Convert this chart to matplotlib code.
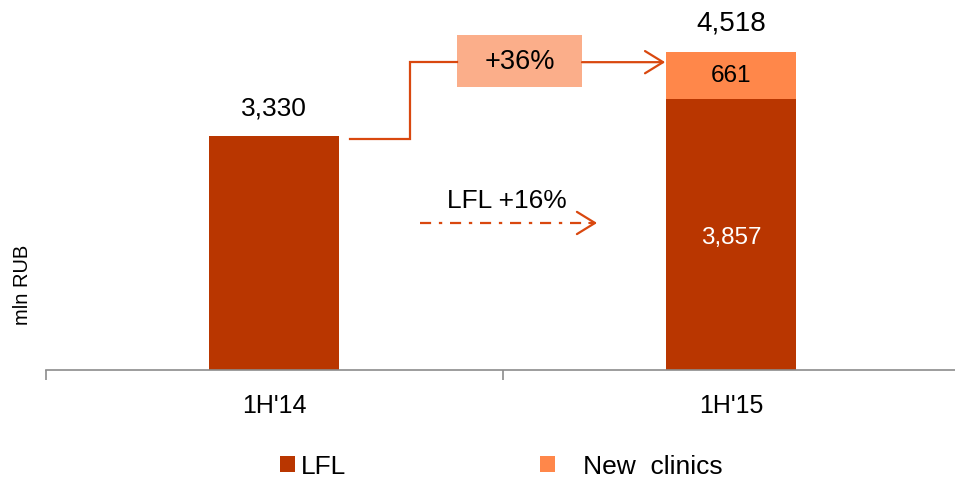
import matplotlib.pyplot as plt
from matplotlib.patches import Rectangle

plt.rcParams['font.family'] = ['Liberation Sans', 'DejaVu Sans']

periods = ["1H'14", "1H'15"]
lfl = [3330, 3857]
new_clinics = [0, 661]
totals = [3330, 4518]
growth_total = '+36%'
growth_lfl = 'LFL +16%'

c_lfl = '#B93600'
c_new = '#FF874A'
c_box = '#FBAE8A'
c_arrow = '#D9480F'

fig = plt.figure(figsize=(9.55, 4.79), dpi=100)
ax = fig.add_axes([45.5 / 955, 109 / 479, 914 / 955, 360 / 479])

x = range(len(periods))
w = 0.284
ax.bar(x, lfl, width=w, color=c_lfl, label='LFL')
ax.bar(x, new_clinics, width=w, bottom=lfl, color=c_new, label='   New  clinics')

ax.set_xlim(-0.5, 1.5)
ax.set_ylim(0, 5120)

# value labels
ax.text(0, 3720, '3,330', ha='center', va='center', fontsize=19)
ax.text(1, 4925, '4,518', ha='center', va='center', fontsize=20)
ax.text(1, lfl[1] + new_clinics[1] / 2, '661', ha='center', va='center', fontsize=17.5)
ax.text(1, lfl[1] * 0.487, '3,857', ha='center', va='center', fontsize=17.5,
        color='white')

# step connector with the +36% box
ax.plot([0.166, 0.298, 0.298, 0.400], [3285, 3285, 4378, 4378],
        color=c_arrow, lw=1.6, solid_joinstyle='miter')
ax.annotate('', xy=(0.856, 4378), xytext=(0.674, 4378),
            arrowprops=dict(arrowstyle='->,head_length=1.3,head_width=0.8',
                            color=c_arrow, lw=1.6, shrinkA=0, shrinkB=0))
ax.add_patch(Rectangle((0.400, 4029), 0.274, 736, color=c_box, lw=0))
ax.text(0.537, 4385, growth_total, ha='center', va='center', fontsize=19.5)

# like-for-like growth arrow: dash-dot shaft, solid head
ax.text(0.510, 2400, growth_lfl, ha='center', va='center', fontsize=19)
ax.plot([0.319, 0.690], [2091, 2091], color=c_arrow, lw=1.6,
        linestyle=(0, (5, 3.5, 1.5, 3.5)))
ax.annotate('', xy=(0.707, 2091), xytext=(0.690, 2091),
            arrowprops=dict(arrowstyle='->,head_length=1.3,head_width=0.8',
                            color=c_arrow, lw=1.6, shrinkA=0, shrinkB=0))

# axes styling
for s in ['top', 'right', 'left']:
    ax.spines[s].set_visible(False)
ax.spines['bottom'].set_color('#8C8C8C')
ax.spines['bottom'].set_linewidth(1.2)
ax.set_yticks([])
ax.set_xticks(list(x))
ax.set_xticklabels(periods, fontsize=18)
ax.tick_params(axis='x', which='major', length=0, pad=17)
ax.set_xticks([-0.5, 0.5, 1.5], minor=True)
ax.tick_params(axis='x', which='minor', length=7, width=1.2, color='#8C8C8C')
ax.set_ylabel('mln RUB', fontsize=14.5)
ax.yaxis.set_label_coords(-0.0148, 0.236)

fig.legend(loc='center', bbox_to_anchor=(0.525, 0.026), ncol=2, frameon=False,
           fontsize=19, handlelength=0.55, handleheight=0.55, handletextpad=0.23,
           columnspacing=7.35)

fig.savefig('out.png', dpi=100)
